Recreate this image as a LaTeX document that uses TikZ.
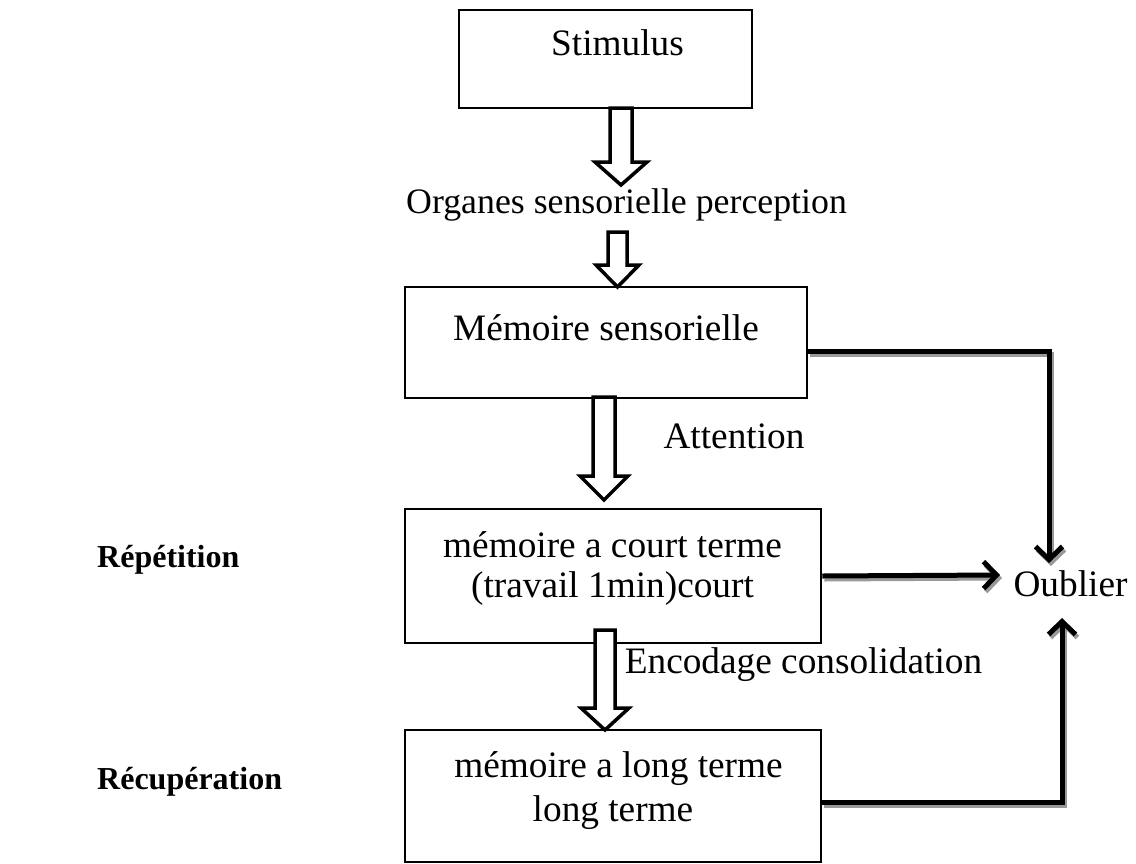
\documentclass[tikz,border=0pt]{standalone}
\usepackage{fontspec}
\setmainfont{Liberation Serif}
\usetikzlibrary{arrows.meta}

\tikzset{
  box/.style={draw, line width=2.5pt, inner sep=0pt},
  txt/.style={inner sep=0pt, anchor=base, font=\fontsize{37.3}{42}\selectfont},
  side/.style={inner sep=0pt, anchor=base west, font=\fontsize{32}{40}\selectfont\bfseries},
  hollow/.style={draw, fill=white, line width=3.5pt, line join=miter},
  conn/.style={line width=5pt, -{Straight Barb[length=13pt,width=27pt]},
    preaction={draw=black!40, line width=5pt, transform canvas={shift={(2pt,-3pt)}}}},
}

% hollow block arrow: centre x, top y, tip y, shaft half width, head half width, head length
\newcommand\blockarrow[6]{%
  \draw[hollow] ({#1-#4},#2) -- ({#1-#4},{#3-#6}) -- ({#1-#5},{#3-#6}) -- (#1,#3)
    -- ({#1+#5},{#3-#6}) -- ({#1+#4},{#3-#6}) -- ({#1+#4},#2) -- cycle;}

\begin{document}
\begin{tikzpicture}[x=1pt, y=-1pt]
\useasboundingbox (0,0) rectangle (1136,863);

% boxes
\node[box, minimum width=293pt, minimum height=98pt]  (stim) at (605.5,59) {};
\node[box, minimum width=402pt, minimum height=111pt] (sens) at (606,342.5) {};
\node[box, minimum width=416pt, minimum height=134pt] (court) at (613,576) {};
\node[box, minimum width=416pt, minimum height=132pt] (long) at (613,796) {};

% texts
\node[txt] (tstim) at (617.5,55) {Stimulus};
\node[txt, anchor=base west, font=\fontsize{35.8}{42}\selectfont] (organes) at (406,213) {Organes sensorielle perception};
\node[txt] (tsens) at (606,340) {Mémoire sensorielle};
\node[txt] (attn) at (734,448) {Attention};
\node[txt] (tcourt1) at (612.5,557) {mémoire a court terme};
\node[txt] (tcourt2) at (612.5,597) {(travail 1min)court};
\node[txt] (enc) at (803.5,673) {Encodage consolidation};
\node[txt] (tlong1) at (618.5,777) {mémoire a long terme};
\node[txt] (tlong2) at (613,821) {long terme};
\node[txt] (oub) at (1070.5,596) {Oublier};
\node[side] (rep) at (97,567) {Répétition};
\node[side] (recup) at (97,789) {Récupération};

% hollow arrows between stages
\blockarrow{621}{108}{185}{11}{26}{23}
\blockarrow{617.5}{232}{287}{9.5}{21.5}{22}
\blockarrow{604}{397}{500}{11}{24}{24}
\blockarrow{605}{630}{730}{10}{24}{22}

% forgetting paths
\coordinate (fromtop) at (1049,563);
\coordinate (frommid) at (1000,575);
\coordinate (frombot) at (1062,618);
\draw[conn] ([yshift=-8.5pt]sens.east) -| (fromtop);
\draw[conn] (court.east) -- (frommid);
\draw[conn] ([yshift=-6pt]long.east) -| (frombot);
\end{tikzpicture}
\end{document}
